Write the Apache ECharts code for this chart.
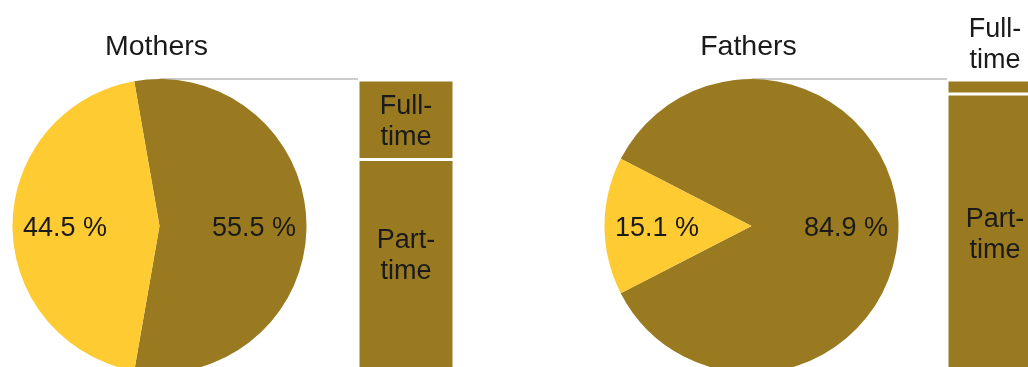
<!DOCTYPE html>
<html>
<head>
<meta charset="utf-8">
<script src="https://cdn.jsdelivr.net/npm/echarts@6/dist/echarts.min.js"></script>
<style>
  html, body { margin: 0; padding: 0; background: #fff; }
  #chart { width: 1028px; height: 367px; }
</style>
</head>
<body>
<div id="chart"></div>
<script>
// Shares of parents (pie) and working-time split (stacked bar)
const groups = ['Mothers', 'Fathers'];
const pieLabels = ['Employed', 'Not employed'];
const pieMothers = [55.5, 44.5];
const pieFathers = [84.9, 15.1];
const barCategories = ['Full-time', 'Part-time'];
const barMothers = [27.2, 72.8];
const barFathers = [4.8, 95.2];

const DARK = '#997A21';
const YELLOW = '#FFCB33';
const TEXT = '#1a1a1a';
const FONT = '"Liberation Sans", Arial, Helvetica, sans-serif';

// layout
const R = 147;
const CY = 226;
const panels = [
  { cx: 159.5, barLeft: 358, pie: pieMothers, bar: barMothers, partOffset: -10, fullPos: 'inside' },
  { cx: 751.5, barLeft: 947, pie: pieFathers, bar: barFathers, partOffset: 2, fullPos: 'top' }
];
const BAR_TOP = 80, BAR_H = 292, BAR_W = 96;

const chart = echarts.init(document.getElementById('chart'), null, { renderer: 'canvas' });

const series = [];
const grids = [], xAxes = [], yAxes = [];
const graphics = [];

panels.forEach((p, i) => {
  // dark slice centred on the 3 o'clock direction
  const startAngle = p.pie[0] / 100 * 360 / 2;
  const pieData = p.pie.map((v, k) => ({
    name: pieLabels[k], value: v,
    itemStyle: { color: k === 0 ? DARK : YELLOW }
  }));
  series.push({
    type: 'pie', center: [p.cx, CY], radius: [0, R],
    startAngle, clockwise: true, silent: true, animation: false,
    label: { show: false }, labelLine: { show: false },
    itemStyle: { borderWidth: 0 },
    data: pieData
  });
  // transparent ring that carries the percentage labels
  series.push({
    type: 'pie', center: [p.cx, CY], radius: [36, R],
    startAngle, clockwise: true, silent: true, animation: false,
    labelLine: { show: false },
    itemStyle: { color: 'rgba(0,0,0,0)', borderWidth: 0 },
    label: {
      show: true, position: 'inside', offset: [0, 3],
      formatter: (d) => d.value.toFixed(1) + ' %',
      color: TEXT, fontFamily: FONT, fontSize: 27
    },
    data: p.pie.map((v, k) => ({ name: pieLabels[k], value: v }))
  });

  grids.push({
    left: p.barLeft, top: BAR_TOP, width: BAR_W, height: BAR_H,
    outerBoundsMode: 'none', containLabel: false
  });
  xAxes.push({ type: 'category', gridIndex: i, data: [groups[i]], show: false });
  yAxes.push({ type: 'value', gridIndex: i, min: 0, max: 100, inverse: true, show: false });

  barCategories.forEach((cat, k) => {
    const isFull = k === 0;
    series.push({
      type: 'bar', name: cat, stack: 'work' + i,
      xAxisIndex: i, yAxisIndex: i, barWidth: '100%',
      silent: true, animation: false,
      itemStyle: { color: DARK, borderColor: '#fff', borderWidth: 1.5 },
      label: {
        show: true,
        position: isFull ? p.fullPos : 'inside',
        distance: 6,
        offset: isFull ? [0, 2] : [0, p.partOffset],
        formatter: cat.replace('-', '-\n'),
        color: TEXT, fontFamily: FONT, fontSize: 27, lineHeight: 31, align: 'center'
      },
      data: [p.bar[k]]
    });
  });

  // group heading
  graphics.push({
    type: 'text', x: p.cx - 3, y: 33,
    style: { text: groups[i], fill: TEXT, font: '28.5px ' + FONT, align: 'center', verticalAlign: 'top' },
    silent: true
  });
  // connector from the pie top to the bar
  graphics.push({
    type: 'line', silent: true,
    shape: { x1: p.cx, y1: CY - R, x2: p.barLeft, y2: CY - R },
    style: { stroke: '#cccccc', lineWidth: 2 }
  });
});

chart.setOption({
  animation: false,
  backgroundColor: '#fff',
  grid: grids,
  xAxis: xAxes,
  yAxis: yAxes,
  series,
  graphic: graphics
});
</script>
</body>
</html>
